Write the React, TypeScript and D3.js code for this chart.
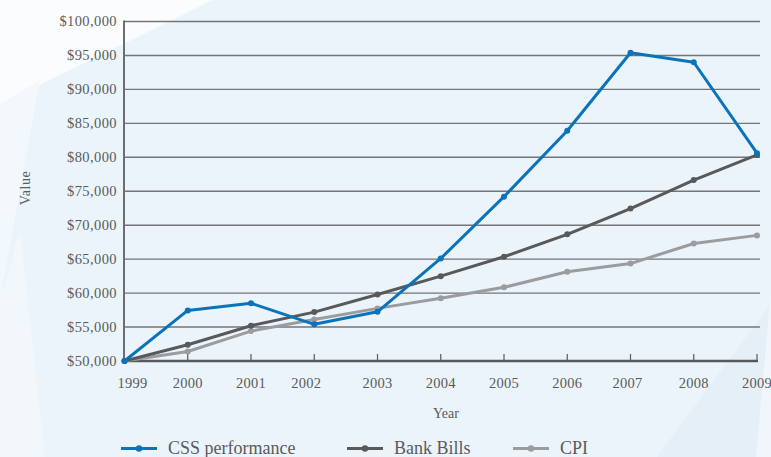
import React from "react";
import * as d3 from "d3";

const years = ["1999","2000","2001","2002","2003","2004","2005","2006","2007","2008","2009"];
const cssPerformance = [50000,57450,58500,55400,57250,65100,74200,83900,95400,94000,80600];
const bankBills = [50000,52400,55200,57200,59800,62500,65350,68650,72450,76650,80350];
const cpi = [50000,51400,54400,56100,57750,59250,60850,63150,64350,67300,68500];
const yTicks = [50000,55000,60000,65000,70000,75000,80000,85000,90000,95000,100000];
const seriesNames = ["CSS performance","Bank Bills","CPI"];

const W = 771, H = 457;
const FONT = "Liberation Serif, Tinos, Times New Roman, DejaVu Serif, serif";
const TEXT = "#5a5b5d";

export default function App() {
  const x = d3.scalePoint<string>().domain(years).range([124.5, 757]);
  const y = d3.scaleLinear().domain([50000, 100000]).range([361, 21.5]);
  const series = [
    { name: seriesNames[2], values: cpi, color: "#9a9c9f" },
    { name: seriesNames[1], values: bankBills, color: "#58595b" },
    { name: seriesNames[0], values: cssPerformance, color: "#0a73ba" },
  ];
  const line = d3.line<number>().x((_, i) => x(years[i])!).y((d) => y(d));
  const fmt = (v: number) => "$" + d3.format(",")(v);
  const labelShift: Record<string, number> = { "1999": 8, "2002": -8, "2007": -3 };
  const legend = [
    { name: seriesNames[0], color: "#0a73ba", x0: 121 },
    { name: seriesNames[1], color: "#58595b", x0: 347 },
    { name: seriesNames[2], color: "#9a9c9f", x0: 513 },
  ];
  return (
    <svg width={W} height={H} style={{ position: "absolute", left: 0, top: 0, display: "block" }}>
      <rect width={W} height={H} fill="#ebf4fa" />
      <polygon points="0,0 213,0 0,104" fill="#fafcfe" />
      <polygon points="0,104 40,80 0,300" fill="#f2f8fc" />
      <polygon points="0,300 0,457 45,457 20,230" fill="#f1f7fb" />
      <polygon points="771,303 771,457 657,457" fill="#e4eff8" />
      <polygon points="771,290 771,457 756,457" fill="#f0f6fb" />
      {yTicks.slice(1).map((t) => (
        <line key={t} x1={124} x2={760} y1={y(t)} y2={y(t)} stroke="#747578" strokeWidth={1.4} />
      ))}
      <line x1={124} x2={124} y1={y(100000) - 1} y2={y(50000)} stroke="#6d6e71" strokeWidth={2} />
      <line x1={123} x2={758} y1={y(50000)} y2={y(50000)} stroke="#58595b" strokeWidth={2.6} />
      {years.slice(1).map((yr) => (
        <line key={yr} x1={x(yr)} x2={x(yr)} y1={y(50000) - 7} y2={y(50000)} stroke="#58595b" strokeWidth={1.2} />
      ))}
      {yTicks.map((t) => (
        <text key={t} x={117} y={y(t) + 4.5} textAnchor="end" fontFamily={FONT} fontSize={14.5} fill={TEXT} letterSpacing={0.4}>
          {fmt(t)}
        </text>
      ))}
      {years.map((yr) => (
        <text key={yr} x={x(yr)! + (labelShift[yr] || 0)} y={388} textAnchor="middle" fontFamily={FONT} fontSize={14.5} fill={TEXT} letterSpacing={0.3}>
          {yr}
        </text>
      ))}
      <text x={446} y={418} textAnchor="middle" fontFamily={FONT} fontSize={14} fill={TEXT}>Year</text>
      <text transform={`translate(30,188) rotate(-90)`} textAnchor="middle" fontFamily={FONT} fontSize={14} fill={TEXT} letterSpacing={0.5}>Value</text>
      {series.map((s) => (
        <g key={s.name}>
          <path d={line(s.values) || ""} fill="none" stroke={s.color} strokeWidth={3} strokeLinejoin="round" />
          {s.values.map((v, i) => (
            <circle key={i} cx={x(years[i])} cy={y(v)} r={3} fill={s.color} />
          ))}
        </g>
      ))}
      {legend.map((l) => (
        <g key={l.name}>
          <line x1={l.x0} x2={l.x0 + 36} y1={448.5} y2={448.5} stroke={l.color} strokeWidth={3} />
          <circle cx={l.x0 + 18} cy={448.5} r={3.2} fill={l.color} />
          <text x={l.x0 + 47} y={454} fontFamily={FONT} fontSize={18} fill={TEXT}>{l.name}</text>
        </g>
      ))}
    </svg>
  );
}
